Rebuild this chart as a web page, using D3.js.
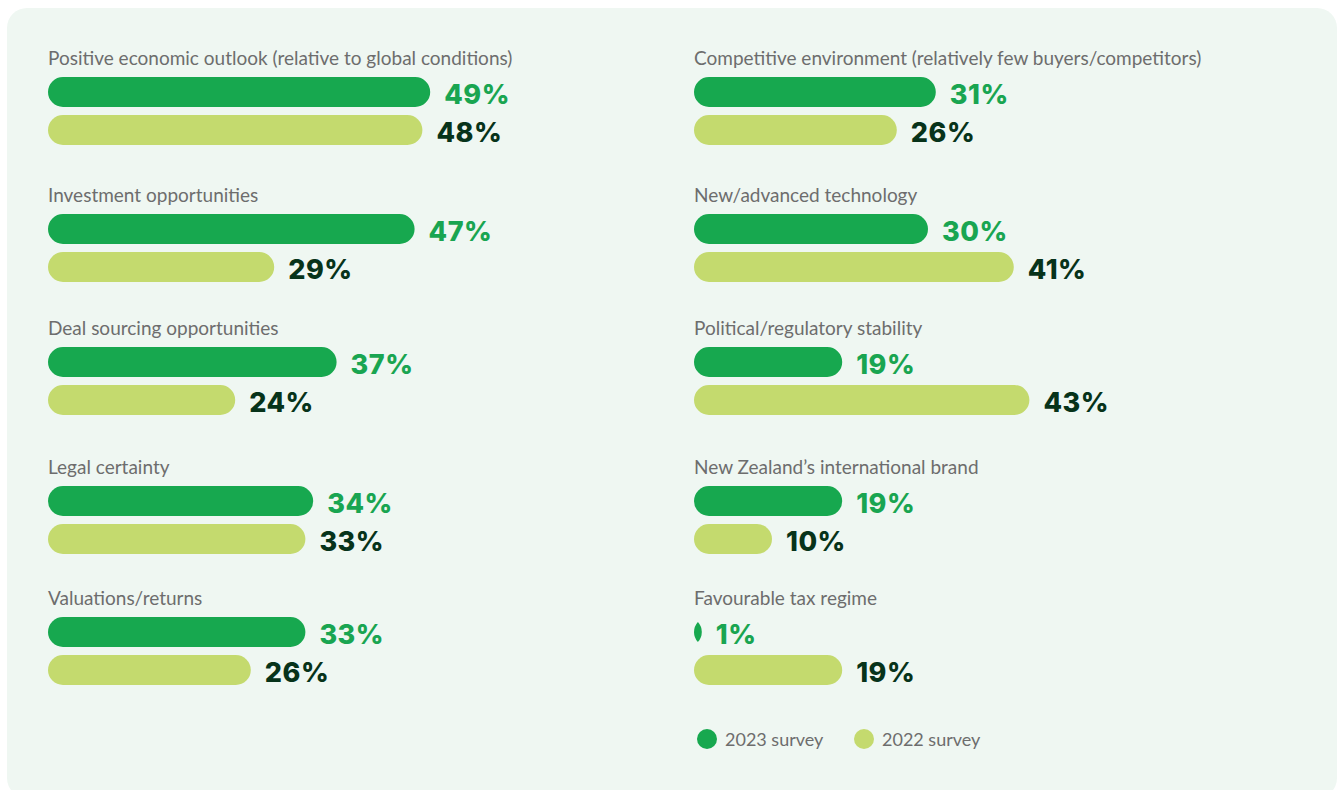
<!DOCTYPE html>
<html>
<head>
<meta charset="utf-8">
<script src="https://cdn.jsdelivr.net/npm/d3@7"></script>
<style>
  html, body { margin: 0; padding: 0; background: #ffffff; }
  svg { display: block; }
</style>
</head>
<body>
<svg id="chart" width="1340" height="790"></svg>
<script>
// Factors attracting investment, share of respondents per survey year
const categories = [
  "Positive economic outlook (relative to global conditions)",
  "Investment opportunities",
  "Deal sourcing opportunities",
  "Legal certainty",
  "Valuations/returns",
  "Competitive environment (relatively few buyers/competitors)",
  "New/advanced technology",
  "Political/regulatory stability",
  "New Zealand\u2019s international brand",
  "Favourable tax regime"
];
const survey2023 = [49, 47, 37, 34, 33, 31, 30, 19, 19, 1];
const survey2022 = [48, 29, 24, 33, 26, 26, 41, 43, 10, 19];
const seriesNames = ["2023 survey", "2022 survey"];

// Layout
const colX = [48, 694];
const rowTop = [77, 214, 347, 486, 617];
const barH = 30, barGap = 8;
const colors = { bar2023: "#17a84f", bar2022: "#c4da6e", txt2023: "#19a551", txt2022: "#07331a", label: "#6d6d6d" };

const svg = d3.select("#chart");

svg.append("rect")
  .attr("x", 7).attr("y", 8).attr("width", 1330).attr("height", 790)
  .attr("rx", 20).attr("fill", "#eff7f2");

const x = d3.scaleLinear().domain([0, 50]).range([0, 390]);

// Rounded bar; when narrower than its height the two end caps overlap into a lens
function barPath(x0, y0, w, h) {
  const r = h / 2, cy = y0 + r;
  if (w >= h) {
    return `M${x0 + r},${y0}H${x0 + w - r}A${r},${r} 0 0 1 ${x0 + w - r},${y0 + h}` +
           `H${x0 + r}A${r},${r} 0 0 1 ${x0 + r},${y0}Z`;
  }
  const d = (h - w) / 2;
  const hh = Math.sqrt(r * r - d * d);
  const xm = x0 + w / 2;
  return `M${xm},${cy - hh}A${r},${r} 0 0 0 ${xm},${cy + hh}A${r},${r} 0 0 0 ${xm},${cy - hh}Z`;
}

const rows = categories.map((c, i) => ({
  name: c,
  v23: survey2023[i],
  v22: survey2022[i],
  x0: colX[Math.floor(i / 5)],
  top: rowTop[i % 5]
}));

const g = svg.selectAll("g.row").data(rows).enter().append("g").attr("class", "row");

g.append("text")
  .attr("x", d => d.x0)
  .attr("y", d => d.top - 12)
  .attr("font-family", "Lato, 'Open Sans', sans-serif")
  .attr("font-size", 19)
  .attr("fill", colors.label)
  .text(d => d.name);

g.append("path")
  .attr("d", d => barPath(d.x0, d.top, x(d.v23), barH))
  .attr("fill", colors.bar2023);

g.append("path")
  .attr("d", d => barPath(d.x0, d.top + barH + barGap, x(d.v22), barH))
  .attr("fill", colors.bar2022);

const valFont = "Inter, Lato, sans-serif";

g.append("text")
  .attr("x", d => d.x0 + x(d.v23) + 14)
  .attr("y", d => d.top + 27)
  .attr("font-family", valFont)
  .attr("font-weight", 800)
  .attr("font-size", 27)
  .attr("letter-spacing", 0.5)
  .attr("fill", colors.txt2023)
  .text(d => d.v23 + "%");

g.append("text")
  .attr("x", d => d.x0 + x(d.v22) + 14)
  .attr("y", d => d.top + barH + barGap + 27)
  .attr("font-family", valFont)
  .attr("font-weight", 800)
  .attr("font-size", 27)
  .attr("letter-spacing", 0.5)
  .attr("fill", colors.txt2022)
  .text(d => d.v22 + "%");

// Legend
const legend = svg.append("g");
const legendX = [707, 864];
const legendColors = [colors.bar2023, colors.bar2022];
seriesNames.forEach((s, i) => {
  legend.append("circle").attr("cx", legendX[i]).attr("cy", 739).attr("r", 10).attr("fill", legendColors[i]);
  legend.append("text")
    .attr("x", legendX[i] + 18).attr("y", 746)
    .attr("font-family", "Lato, 'Open Sans', sans-serif")
    .attr("font-size", 18)
    .attr("fill", colors.label)
    .text(s);
});
</script>
</body>
</html>
